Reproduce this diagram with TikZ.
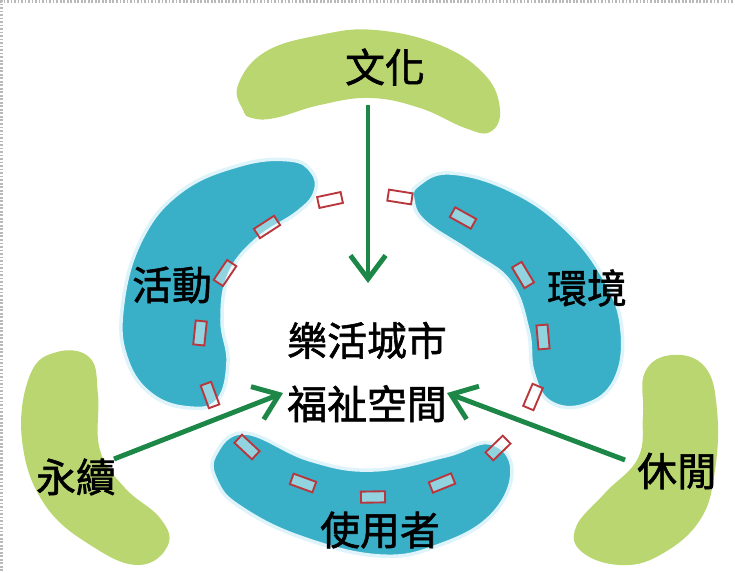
\documentclass[tikz,border=0pt]{standalone}
\usepackage{fontspec}
\usepackage{tikz}
\usetikzlibrary{arrows.meta}
\newfontfamily\cjk[FakeBold=1.5]{Noto Sans CJK TC}
\definecolor{leaf}{RGB}{185,214,112}
\definecolor{pool}{RGB}{58,175,200}
\definecolor{poolhalo}{RGB}{222,244,250}
\definecolor{flow}{RGB}{28,135,70}
\definecolor{brick}{RGB}{185,55,60}

\begin{document}
\begin{tikzpicture}[x=0.03cm,y=0.03cm]
\tikzstyle{every node}+=[inner sep=0pt]
\tikzstyle{word}=[font=\cjk\fontsize{34}{54}\selectfont, text=black]
\tikzstyle{slot}=[draw=brick, fill=white, fill opacity=0.45, line width=1.6pt, minimum width=20.5pt, minimum height=9.5pt]
\tikzstyle{push}=[draw=flow, line width=4.2pt, -{Straight Barb[length=20pt,width=30pt]}]
\tikzstyle{pond}=[fill=pool, draw=poolhalo, line width=3pt]
\useasboundingbox (0,0) rectangle (735,-573);
\draw [gray!55, line width=3pt, dash pattern=on 1.5pt off 1.5pt] (0,-1.5) -- (735,-1.5);
\draw [gray!55, line width=3pt, dash pattern=on 1.5pt off 1.5pt] (1.5,0) -- (1.5,-573);
% green leaves
\fill [leaf] plot [smooth cycle, tension=0.7] coordinates {(243,-110) (238,-85) (265,-52) (320,-35) (375,-30) (440,-45) (485,-75) (500,-110) (490,-132) (465,-128) (420,-108) (370,-98) (320,-105) (275,-118) (252,-118)};
\fill [leaf] plot [smooth cycle, tension=0.7] coordinates {(22,-440) (30,-375) (57,-352) (90,-358) (98,-395) (100,-450) (125,-488) (160,-518) (168,-545) (140,-565) (95,-548) (45,-505)};
\fill [leaf] plot [smooth cycle, tension=0.7] coordinates {(645,-372) (672,-355) (705,-367) (717,-410) (715,-470) (700,-520) (660,-555) (620,-565) (582,-552) (576,-527) (605,-493) (638,-458) (643,-415)};
% blue ponds
\filldraw [pond] plot [smooth cycle, tension=0.7] coordinates {(312,-172) (315,-192) (298,-212) (256,-240) (229,-275) (222,-320) (228,-362) (218,-400) (190,-408) (152,-395) (127,-360) (122,-310) (140,-242) (180,-192) (240,-165) (290,-160)};
\filldraw [pond] plot [smooth cycle, tension=0.7] coordinates {(418,-185) (450,-173) (510,-190) (565,-228) (605,-280) (622,-330) (615,-380) (585,-405) (550,-402) (533,-372) (528,-330) (510,-282) (470,-252) (425,-222) (413,-200)};
\filldraw [pond] plot [smooth cycle, tension=0.7] coordinates {(215,-455) (245,-433) (310,-460) (373,-470) (445,-456) (490,-443) (512,-470) (492,-515) (440,-545) (380,-556) (300,-537) (240,-507) (217,-482)};
% ring of slots
\node [slot, rotate=12] (p1) at (330,-200) {};
\node [slot, rotate=-9] (p2) at (400,-197) {};
\node [slot, rotate=-29] (p3) at (463,-218) {};
\node [slot, rotate=-59] (p4) at (523,-275) {};
\node [slot, rotate=-85] (p5) at (543,-337) {};
\node [slot, rotate=67] (p6) at (533,-397) {};
\node [slot, rotate=44] (p7) at (498,-448) {};
\node [slot, rotate=22] (p8) at (442,-483) {};
\node [slot, rotate=1] (p9) at (373,-497) {};
\node [slot, rotate=-20] (p10) at (303,-483) {};
\node [slot, rotate=-43] (p11) at (247,-447) {};
\node [slot, rotate=-70] (p12) at (210,-395) {};
\node [slot, rotate=84] (p13) at (200,-333) {};
\node [slot, rotate=56] (p14) at (225,-273) {};
\node [slot, rotate=33] (p15) at (267,-227) {};
% arrows
\coordinate (cultureFoot) at (368,-105);
\coordinate (hubTop) at (368,-283);
\coordinate (sustainTip) at (114,-459);
\coordinate (hubLeft) at (283,-393);
\coordinate (leisureTip) at (625,-460);
\coordinate (hubRight) at (447,-393);
\draw [push] (cultureFoot) -- (hubTop);
\draw [push] (sustainTip) -- (hubLeft);
\draw [push] (leisureTip) -- (hubRight);
% labels
\node [word] (culture) at (385,-67) {文化};
\node [word] (activity) at (172,-285) {活動};
\node [word] (environment) at (587,-288) {環境};
\node [word] (users) at (380,-530) {使用者};
\node [word] (sustain) at (76,-477) {永續};
\node [word] (leisure) at (677,-471) {休閒};
\node [word, align=center] (hub) at (367,-372) {樂活城市\\福祉空間};
\end{tikzpicture}
\end{document}
